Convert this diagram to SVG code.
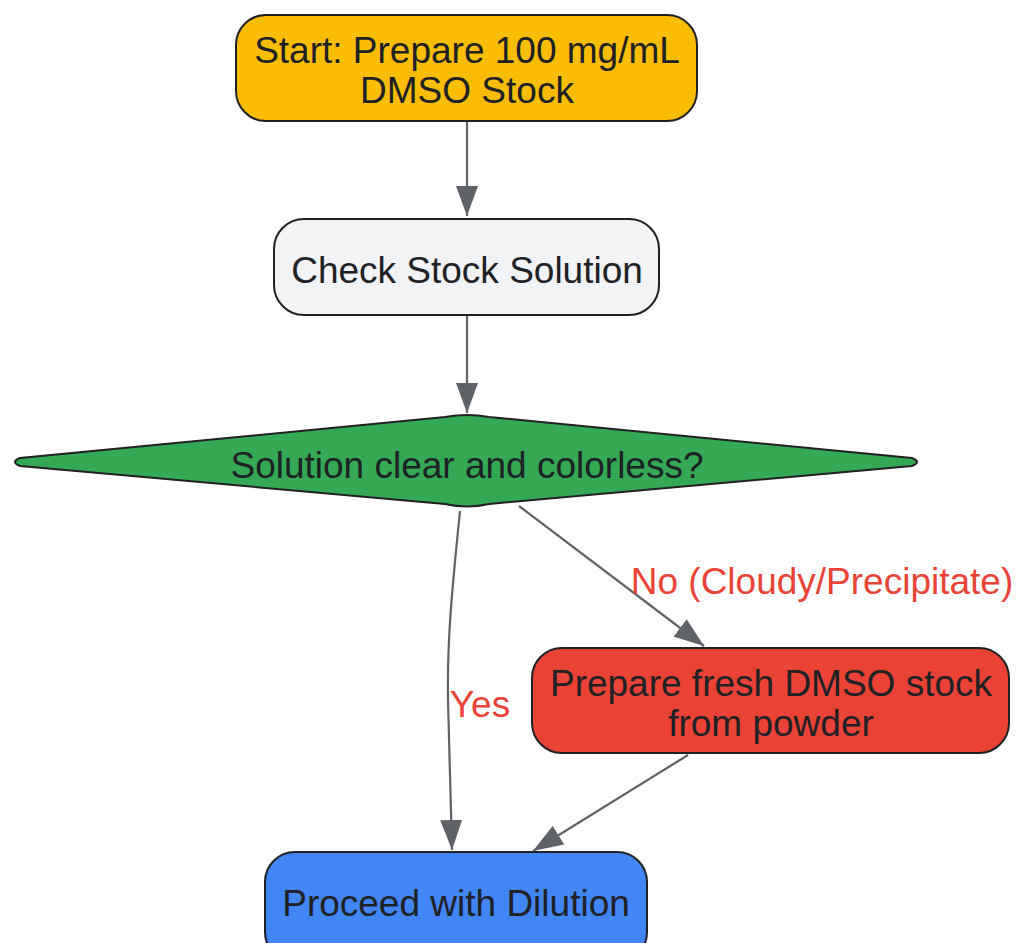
<svg xmlns="http://www.w3.org/2000/svg" width="1017" height="943" viewBox="0 0 1017 943">
<style>
.node{stroke:#202124;stroke-width:2}
.t{font-family:"Liberation Sans",Arial,sans-serif;font-size:37px;fill:#202124;text-anchor:middle}
.lbl{font-family:"Liberation Sans",Arial,sans-serif;font-size:37px;fill:#EA4335;text-anchor:middle}
.edge{fill:none;stroke:#5F6368;stroke-width:2.2}
</style>
<defs>
<marker id="arr" markerUnits="userSpaceOnUse" markerWidth="30" markerHeight="22" refX="30" refY="11" orient="auto">
<path d="M0,0 L30,11 L0,22 z" fill="#5F6368"/>
</marker>
</defs>
<rect width="1017" height="943" fill="#ffffff"/>
<g id="edges">
<path class="edge" d="M467,122 L467,216" marker-end="url(#arr)"/>
<path class="edge" d="M467,316 L467,413" marker-end="url(#arr)"/>
<path class="edge" d="M460,511 C452,590 447,640 448,700 L452,850" marker-end="url(#arr)"/>
<path class="edge" d="M519,506 L704,646" marker-end="url(#arr)"/>
<path class="edge" d="M688,755 L533,851" marker-end="url(#arr)"/>
<text class="lbl" x="480" y="717">Yes</text>
<text class="lbl" x="822" y="594">No (Cloudy/Precipitate)</text>
</g>
<g id="start">
<rect class="node" x="236" y="15" width="461" height="106" rx="30" fill="#FBBC04"/>
<text class="t" x="467" y="63">Start: Prepare 100 mg/mL</text>
<text class="t" x="467" y="103">DMSO Stock</text>
</g>
<g id="check">
<rect class="node" x="274" y="219" width="385" height="96" rx="30" fill="#F1F3F4"/>
<text class="t" x="467" y="283">Check Stock Solution</text>
</g>
<g id="decision">
<path class="node" d="M445,417 Q467,413 489,417 L912,458 Q922,462 912,466 L489,504 Q467,509 445,504 L20,466 Q10,462 20,458 Z" fill="#34A853"/>
<text class="t" x="467" y="478">Solution clear and colorless?</text>
</g>
<g id="fresh">
<rect class="node" x="532" y="648" width="477" height="105" rx="30" fill="#EA4335"/>
<text class="t" x="771" y="696">Prepare fresh DMSO stock</text>
<text class="t" x="771" y="736">from powder</text>
</g>
<g id="proceed">
<rect class="node" x="265" y="852" width="382" height="110" rx="30" fill="#4285F4"/>
<text class="t" x="456" y="916">Proceed with Dilution</text>
</g>
</svg>
